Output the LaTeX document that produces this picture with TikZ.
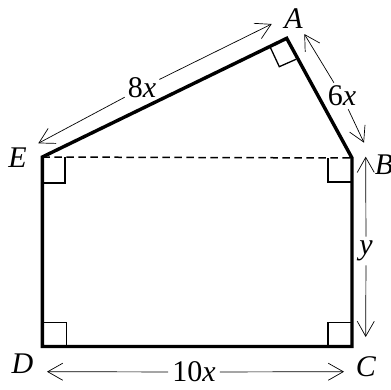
\documentclass[tikz,border=0pt]{standalone}
\usepackage{fontspec}
\setmainfont{Liberation Serif}
\usetikzlibrary{arrows.meta}
\begin{document}
\begin{tikzpicture}[x=1pt,y=-1pt,
  lbl/.style={font=\fontsize{30}{34}\selectfont\itshape, inner sep=0pt},
  dimlbl/.style={font=\fontsize{30}{34}\selectfont, inner sep=0pt},
  edgeline/.style={line width=3.4pt, line join=miter},
  ramark/.style={line width=1.3pt},
  dimline/.style={line width=0.7pt, -{Straight Barb[length=15pt,width=17pt,line width=0.7pt]}},
]
\useasboundingbox (0,0) rectangle (391,389);
\coordinate (A) at (286.7,38.3);
\coordinate (B) at (352,158);
\coordinate (C) at (352,346.5);
\coordinate (D) at (42.3,346.5);
\coordinate (E) at (42.3,157);
% dashed diagonal
\draw[line width=1.5pt, dash pattern=on 7.5pt off 4.5pt] (E) -- (B);
% right-angle marks
\draw[ramark] (42.3,183) -- (65,183) -- (65,157);
\draw[ramark] (328,158) -- (328,182) -- (352,182);
\draw[ramark] (42.3,322.5) -- (66.5,322.5) -- (66.5,346.5);
\draw[ramark] (328,346.5) -- (328,322.5) -- (352,322.5);
\draw[ramark] (270,46.7) -- (279.3,66.7) -- (296,59.3);
% outline
\draw[edgeline] (D) -- (E) -- (A) -- (B) -- (C) -- cycle;
% vertex labels
\node[lbl] (lA) at (293.5,18.5) {A};
\node[lbl] (lB) at (384,165) {B};
\node[lbl] (lC) at (366,367) {C};
\node[lbl] (lD) at (22.5,363.5) {D};
\node[lbl] (lE) at (17.5,158) {E};
% dimension lines
\coordinate (e1) at (38.3,143.3);
\coordinate (a1) at (271.7,24);
\node[dimlbl, inner sep=3pt] (l8) at (142,88) {8\textit{x}};
\draw[dimline] (l8) -- (e1);
\draw[dimline] (l8) -- (a1);
\coordinate (a2) at (304.3,34);
\coordinate (b2) at (364,142.7);
\node[dimlbl, inner sep=3pt] (l6) at (342,96) {6\textit{x}};
\draw[dimline] (l6) -- (a2);
\draw[dimline] (l6) -- (b2);
\coordinate (b3) at (365.7,156.7);
\coordinate (c3) at (365.7,337);
\node[dimlbl, inner sep=4pt] (ly) at (366,251) {\textit{y}};
\draw[dimline] (ly) -- (b3);
\draw[dimline] (ly) -- (c3);
\coordinate (d4) at (47,371.7);
\coordinate (c4) at (344,371.7);
\node[dimlbl, inner sep=4pt] (l10) at (194,372) {10\textit{x}};
\draw[dimline] (l10) -- (d4);
\draw[dimline] (l10) -- (c4);
\end{tikzpicture}
\end{document}
